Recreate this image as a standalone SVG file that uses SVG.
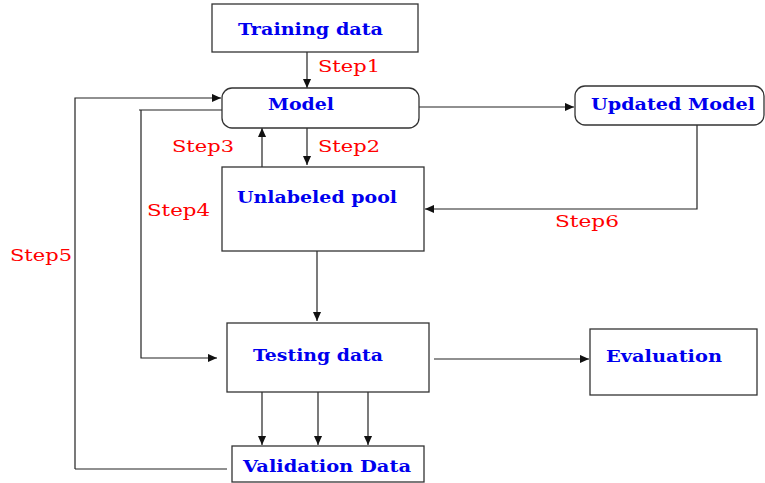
<svg xmlns="http://www.w3.org/2000/svg" width="765" height="483" viewBox="0 0 765 483">
<style>
.box{fill:#fff;stroke:#333;stroke-width:1.3}
.lbl{font-family:"DejaVu Serif","Liberation Serif",serif;font-weight:bold;font-size:16px;fill:#0000ee}
.step{font-family:"DejaVu Serif","Liberation Serif",serif;font-size:17px;fill:#ff0000}
.ln{fill:none;stroke:#222;stroke-width:1.2}
</style>
<defs>
<marker id="ah" viewBox="0 0 10 10" refX="10" refY="5" markerWidth="12" markerHeight="9" markerUnits="userSpaceOnUse" orient="auto">
<path d="M0,0.5 L10,5 L0,9.5 z" fill="#111"/>
</marker>
</defs>
<g id="connectors">
<path class="ln" d="M307,52 V88" marker-end="url(#ah)"/>
<path class="ln" d="M307,128 V165" marker-end="url(#ah)"/>
<path class="ln" d="M262,167 V128" marker-end="url(#ah)"/>
<path class="ln" d="M75,469 H227 M75,469 V98 H221" marker-end="url(#ah)"/>
<path class="ln" d="M139,110 H222 M141,110 V358 H217" marker-end="url(#ah)"/>
<path class="ln" d="M419,107 H574" marker-end="url(#ah)"/>
<path class="ln" d="M697,125 V209 H425" marker-end="url(#ah)"/>
<path class="ln" d="M317,251 V321" marker-end="url(#ah)"/>
<path class="ln" d="M434,359 H589" marker-end="url(#ah)"/>
<path class="ln" d="M262,392 V445" marker-end="url(#ah)"/>
<path class="ln" d="M318,392 V445" marker-end="url(#ah)"/>
<path class="ln" d="M368,392 V445" marker-end="url(#ah)"/>
</g>
<g id="training">
<rect class="box" x="212" y="4" width="206" height="48"/>
<text class="lbl" x="238" y="35" textLength="145" lengthAdjust="spacingAndGlyphs">Training data</text>
</g>
<g id="model">
<rect class="box" x="222" y="88" width="197" height="40" rx="10"/>
<text class="lbl" x="268" y="110" textLength="66" lengthAdjust="spacingAndGlyphs">Model</text>
</g>
<g id="updated">
<rect class="box" x="575" y="86" width="189" height="39" rx="10"/>
<text class="lbl" x="591" y="110" textLength="164" lengthAdjust="spacingAndGlyphs">Updated Model</text>
</g>
<g id="unlabeled">
<rect class="box" x="222" y="167" width="202" height="84"/>
<text class="lbl" x="237" y="203" textLength="160" lengthAdjust="spacingAndGlyphs">Unlabeled pool</text>
</g>
<g id="testing">
<rect class="box" x="227" y="323" width="202" height="69"/>
<text class="lbl" x="253" y="361" textLength="130" lengthAdjust="spacingAndGlyphs">Testing data</text>
</g>
<g id="evaluation">
<rect class="box" x="590" y="329" width="167" height="66"/>
<text class="lbl" x="606" y="362" textLength="116" lengthAdjust="spacingAndGlyphs">Evaluation</text>
</g>
<g id="validation">
<rect class="box" x="232" y="446" width="192" height="36"/>
<text class="lbl" x="243" y="472" textLength="168" lengthAdjust="spacingAndGlyphs">Validation Data</text>
</g>
<g id="steps">
<text class="step" x="318" y="72" textLength="62" lengthAdjust="spacingAndGlyphs">Step1</text>
<text class="step" x="318" y="152" textLength="62" lengthAdjust="spacingAndGlyphs">Step2</text>
<text class="step" x="172" y="152" textLength="62" lengthAdjust="spacingAndGlyphs">Step3</text>
<text class="step" x="147" y="216" textLength="63" lengthAdjust="spacingAndGlyphs">Step4</text>
<text class="step" x="10" y="261" textLength="62" lengthAdjust="spacingAndGlyphs">Step5</text>
<text class="step" x="555" y="227" textLength="64" lengthAdjust="spacingAndGlyphs">Step6</text>
</g>
</svg>
